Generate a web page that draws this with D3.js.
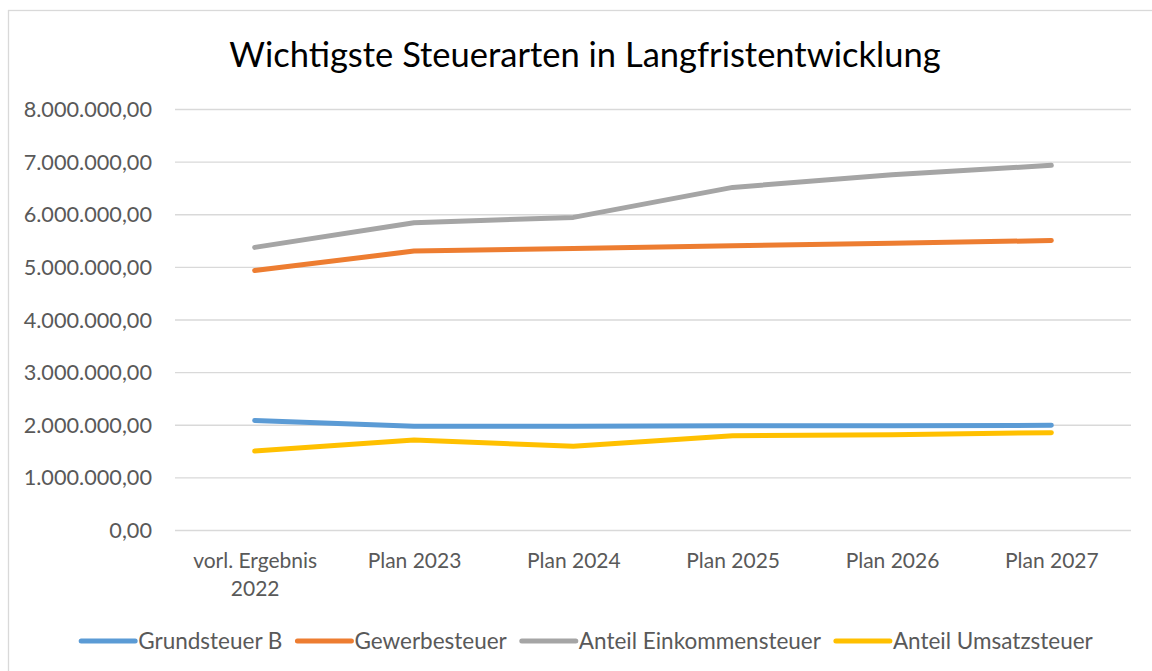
<!DOCTYPE html>
<html>
<head>
<meta charset="utf-8">
<script src="https://cdn.jsdelivr.net/npm/d3@7"></script>
<style>
  body { margin: 0; background: #fff; }
  #chart { width: 1152px; height: 671px; }
  text { font-family: Lato, "Open Sans", sans-serif; }
</style>
</head>
<body>
<div id="chart"></div>
<script>
// data
var categories = ["vorl. Ergebnis 2022", "Plan 2023", "Plan 2024", "Plan 2025", "Plan 2026", "Plan 2027"];
var seriesNames = ["Grundsteuer B", "Gewerbesteuer", "Anteil Einkommensteuer", "Anteil Umsatzsteuer"];
var grundsteuerB = [2080000, 1970000, 1970000, 1980000, 1980000, 1990000];
var gewerbesteuer = [4930000, 5300000, 5350000, 5400000, 5450000, 5500000];
var einkommensteuer = [5370000, 5840000, 5940000, 6510000, 6750000, 6930000];
var umsatzsteuer = [1500000, 1710000, 1590000, 1790000, 1810000, 1850000];
var yTicks = [0, 1000000, 2000000, 3000000, 4000000, 5000000, 6000000, 7000000, 8000000];
var colors = ["#5B9BD5", "#ED7D31", "#A5A5A5", "#FFC000"];

var series = [grundsteuerB, gewerbesteuer, einkommensteuer, umsatzsteuer];

drawChart(1152, 671);

function drawChart(w, h) {
  var margin = {top: 109, right: 21, bottom: 141, left: 175},
      width = w - margin.left - margin.right,
      height = h - margin.top - margin.bottom;

  var svg = d3.select("#chart").append("svg")
      .attr("width", w)
      .attr("height", h);

  // chart frame
  svg.append("rect")
      .attr("x", 8.5).attr("y", 10.5)
      .attr("width", w).attr("height", h)
      .attr("fill", "none")
      .attr("stroke", "#D9D9D9")
      .attr("stroke-width", 1.3);

  // title
  svg.append("text")
      .attr("x", 585).attr("y", 67)
      .attr("text-anchor", "middle")
      .attr("fill", "#000")
      .style("font-size", "34.5px")
      .text("Wichtigste Steuerarten in Langfristentwicklung");

  var g = svg.append("g")
      .attr("transform", "translate(" + margin.left + "," + margin.top + ")");

  var x = d3.scalePoint().domain(categories).range([0, width]).padding(0.5);
  var y = d3.scaleLinear().domain([0, 8000000]).range([height, 0]);

  var fmt = function(v) {
    return d3.format(",.2f")(v).replace(/,/g, "#").replace(".", ",").replace(/#/g, ".");
  };

  // y axis with gridlines
  var yAxis = g.append("g")
      .call(d3.axisLeft(y).tickValues(yTicks).tickSize(-width).tickPadding(23).tickFormat(fmt));
  yAxis.select(".domain").remove();
  yAxis.selectAll(".tick line").attr("stroke", "#D9D9D9").attr("stroke-width", 1.3);
  yAxis.selectAll(".tick text")
      .attr("fill", "#595959")
      .attr("dy", "0.35em")
      .style("font-size", "21.7px")
      .style("font-family", "Lato, sans-serif");

  // x axis labels
  var xAxis = g.append("g")
      .attr("transform", "translate(0," + height + ")")
      .call(d3.axisBottom(x).tickSize(0).tickPadding(0).tickFormat(""));
  xAxis.select(".domain").remove();
  xAxis.selectAll(".tick").each(function(d) {
    var words = d === categories[0] ? ["vorl. Ergebnis", "2022"] : [d];
    var t = d3.select(this).append("text")
        .attr("fill", "#595959")
        .attr("text-anchor", "middle")
        .style("font-size", "21px")
        .style("font-family", "Lato, sans-serif");
    words.forEach(function(wd, i) {
      t.append("tspan").attr("x", 0).attr("y", 38 + i * 28).text(wd);
    });
  });

  // lines
  var line = d3.line()
      .x(function(d, i) { return x(categories[i]); })
      .y(function(d) { return y(d); });

  series.forEach(function(s, i) {
    g.append("path")
        .datum(s)
        .attr("fill", "none")
        .attr("stroke", colors[i])
        .attr("stroke-width", 5)
        .attr("stroke-linecap", "round")
        .attr("stroke-linejoin", "round")
        .attr("d", line);
  });

  // legend, centred under the chart
  var legend = svg.append("g");
  var lx = 0;
  seriesNames.forEach(function(name, i) {
    var item = legend.append("g").attr("transform", "translate(" + lx + ",0)");
    item.append("line")
        .attr("x1", 0).attr("x2", 54)
        .attr("stroke", colors[i])
        .attr("stroke-width", 5)
        .attr("stroke-linecap", "round");
    var t = item.append("text")
        .attr("x", 57).attr("y", 0).attr("dy", "0.35em")
        .attr("fill", "#595959")
        .style("font-size", "22.5px")
        .text(name);
    lx += 57 + t.node().getComputedTextLength() + 15;
  });
  lx -= 15;
  legend.attr("transform", "translate(" + (587 - lx / 2) + ",641)");
}
</script>
</body>
</html>
